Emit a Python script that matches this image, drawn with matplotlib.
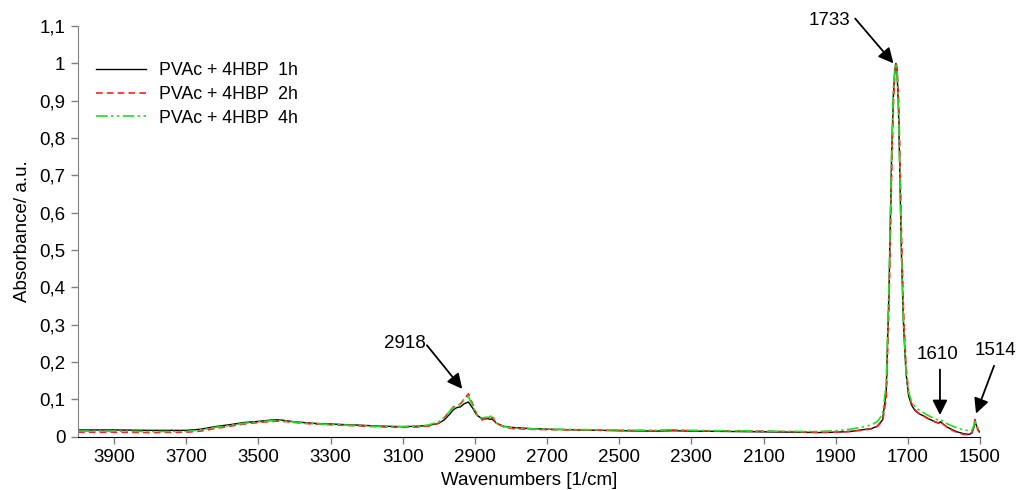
import matplotlib
matplotlib.use("Agg")
import matplotlib.pyplot as plt
from matplotlib.ticker import FuncFormatter, MultipleLocator

plt.rcParams['font.family'] = ['Liberation Sans', 'DejaVu Sans']

wavenumbers = [4000, 3900, 3800, 3700, 3660, 3620, 3580, 3540, 3500, 3460, 3440, 3400, 3350, 3300,
               3250, 3200, 3150, 3100, 3060, 3030, 3000, 2985, 2970, 2960, 2950, 2940, 2930, 2918,
               2905, 2895, 2880, 2870, 2860, 2852, 2840, 2820, 2800, 2750, 2700, 2600, 2500, 2400,
               2350, 2300, 2200, 2100, 2000, 1950, 1900, 1860, 1830, 1800, 1785, 1770, 1760, 1752,
               1745, 1740, 1736, 1733, 1730, 1726, 1722, 1718, 1712, 1705, 1698, 1690, 1680, 1670,
               1655, 1640, 1625, 1615, 1610, 1600, 1590, 1575, 1560, 1545, 1530, 1522, 1517, 1514,
               1510, 1505, 1500]

abs_1h = [0.018, 0.018, 0.017, 0.017, 0.020, 0.027, 0.032, 0.038, 0.041, 0.045, 0.045, 0.040, 0.036, 0.034,
          0.032, 0.030, 0.028, 0.027, 0.028, 0.030, 0.036, 0.045, 0.060, 0.072, 0.078, 0.080, 0.088, 0.093,
          0.075, 0.058, 0.048, 0.050, 0.047, 0.047, 0.036, 0.028, 0.025, 0.022, 0.020, 0.018, 0.016, 0.015,
          0.016, 0.015, 0.014, 0.013, 0.012, 0.011, 0.012, 0.014, 0.018, 0.022, 0.028, 0.045, 0.12, 0.40,
          0.75, 0.92, 0.98, 1.0, 0.98, 0.88, 0.70, 0.50, 0.30, 0.17, 0.11, 0.085, 0.070, 0.062,
          0.055, 0.047, 0.040, 0.036, 0.040, 0.032, 0.025, 0.018, 0.012, 0.008, 0.006, 0.010, 0.025, 0.042,
          0.030, 0.018, 0.012]

abs_2h = [0.012, 0.012, 0.011, 0.012, 0.015, 0.022, 0.028, 0.034, 0.038, 0.041, 0.042, 0.038, 0.034, 0.032,
          0.030, 0.028, 0.026, 0.025, 0.026, 0.028, 0.036, 0.050, 0.068, 0.080, 0.082, 0.088, 0.100, 0.115,
          0.085, 0.060, 0.045, 0.048, 0.046, 0.052, 0.036, 0.026, 0.022, 0.020, 0.019, 0.018, 0.017, 0.016,
          0.018, 0.016, 0.015, 0.015, 0.013, 0.012, 0.012, 0.014, 0.017, 0.021, 0.027, 0.042, 0.10, 0.36,
          0.70, 0.89, 0.97, 1.0, 0.99, 0.92, 0.76, 0.56, 0.34, 0.19, 0.12, 0.090, 0.072, 0.063,
          0.054, 0.046, 0.040, 0.037, 0.041, 0.032, 0.024, 0.016, 0.010, 0.006, 0.005, 0.012, 0.030, 0.046,
          0.030, 0.016, 0.010]

abs_4h = [0.015, 0.015, 0.014, 0.014, 0.018, 0.025, 0.030, 0.036, 0.040, 0.043, 0.044, 0.039, 0.035, 0.033,
          0.031, 0.029, 0.027, 0.027, 0.028, 0.031, 0.040, 0.052, 0.068, 0.078, 0.082, 0.088, 0.100, 0.108,
          0.080, 0.058, 0.050, 0.052, 0.052, 0.058, 0.036, 0.027, 0.024, 0.021, 0.020, 0.019, 0.018, 0.017,
          0.019, 0.017, 0.016, 0.015, 0.014, 0.014, 0.016, 0.020, 0.025, 0.032, 0.040, 0.060, 0.14, 0.42,
          0.76, 0.93, 0.99, 1.0, 0.98, 0.88, 0.70, 0.50, 0.30, 0.17, 0.12, 0.095, 0.080, 0.072,
          0.063, 0.055, 0.048, 0.044, 0.046, 0.040, 0.034, 0.028, 0.022, 0.018, 0.016, 0.018, 0.030, 0.040,
          0.032, 0.022, 0.015]

labels = ["PVAc + 4HBP  1h", "PVAc + 4HBP  2h", "PVAc + 4HBP  4h"]
x_ticks = [3900, 3700, 3500, 3300, 3100, 2900, 2700, 2500, 2300, 2100, 1900, 1700, 1500]
peak_labels = ["2918", "1733", "1610", "1514"]

W, H = 1017, 490
fig = plt.figure(figsize=(W / 100, H / 100), dpi=100)
ax = fig.add_axes([78 / W, 1 - 436.7 / H, (980 - 78) / W, (436.7 - 26) / H])

ax.plot(wavenumbers, abs_1h, color='black', lw=1.0, label=labels[0])
ax.plot(wavenumbers, abs_2h, color='#ff2020', lw=1.2, dashes=(4, 2.5), label=labels[1])
ax.plot(wavenumbers, abs_4h, color='#22dd22', lw=1.2, dashes=(7, 2, 1.5, 2, 1.5, 2), label=labels[2])

ax.set_xlim(4000, 1500)
ax.set_ylim(0, 1.1)
ax.set_xticks(x_ticks)
ax.yaxis.set_major_locator(MultipleLocator(0.1))
ax.yaxis.set_major_formatter(FuncFormatter(lambda v, p: ('%g' % round(v, 2)).replace('.', ',')))

for s in ['top', 'right']:
    ax.spines[s].set_visible(False)
ax.spines['left'].set_color('#808080')
ax.spines['bottom'].set_color('black')
ax.tick_params(axis='both', direction='out', length=5, width=1, color='#808080', labelsize=13.5, pad=4)

ax.set_xlabel("Wavenumbers [1/cm]", fontsize=13.5, labelpad=4)
ax.set_ylabel("Absorbance/ a.u.", fontsize=13.5, labelpad=6)

arrow = dict(arrowstyle='-|>,head_length=0.9,head_width=0.45', color='black', lw=1.3, shrinkA=0, shrinkB=0)
ann = [
    (peak_labels[0], (2935, 0.128), (3095, 0.25), (3033, 0.245)),
    (peak_labels[1], (1740, 1.0), (1916, 1.114), (1846, 1.12)),
    (peak_labels[2], (1611, 0.058), (1619, 0.219), (1611, 0.18)),
    (peak_labels[3], (1511, 0.062), (1458, 0.232), (1461, 0.19)),
]
for txt, tip, tpos, tail in ann:
    ax.annotate('', xy=tip, xytext=tail, arrowprops=arrow, annotation_clip=False)
    ax.text(tpos[0], tpos[1], txt, fontsize=13.5, ha='center', va='center', clip_on=False)

leg = fig.legend(loc='upper left', bbox_to_anchor=(96 / W, 1 - 62 / H), frameon=False, fontsize=12.8,
                 handlelength=2.8, handletextpad=0.75, labelspacing=0.38, borderpad=0, borderaxespad=0)

fig.savefig('out.png', dpi=100)
